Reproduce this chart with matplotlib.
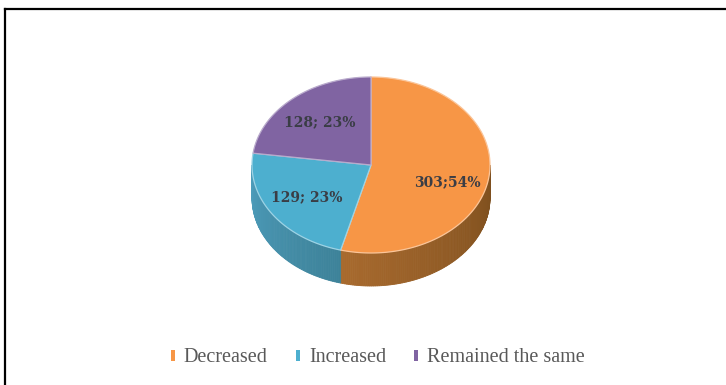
import numpy as np
import matplotlib

matplotlib.use("Agg")
import matplotlib.pyplot as plt  # noqa: E402
from matplotlib.colors import to_rgb  # noqa: E402
from matplotlib.lines import Line2D  # noqa: E402
from matplotlib.patches import Polygon, Rectangle  # noqa: E402

CATEGORIES = ["Decreased", "Increased", "Remained the same"]
COUNTS = [303, 129, 128]
LABEL_SEP = [";", "; ", "; "]

TOP_COLORS = ["#F79646", "#4DAFCF", "#8064A2"]
# side shading runs from the slice's start angle to its end angle
SIDE_COLORS = [("#56360f", "#a86a2e"), ("#3d8299", "#4f9fbe"), ("#4f3d66", "#4f3d66")]

W, H = 726, 385
CX, CY = 371, 165       # centre of the top face, in pixels
RX, RY = 119, 88        # flattened radii of the top face
DEPTH = 33              # thickness of the disc


def ellipse_pt(theta_deg, dy=0.0):
    """Point on the top rim, theta measured clockwise from 12 o'clock."""
    t = np.radians(theta_deg)
    return CX + RX * np.sin(t), CY - RY * np.cos(t) + dy


def mix(c0, c1, f):
    a, b = np.array(to_rgb(c0)), np.array(to_rgb(c1))
    return tuple(a + (b - a) * f)


fig = plt.figure(figsize=(W / 100, H / 100), dpi=100)
ax = fig.add_axes([0, 0, 1, 1])
ax.set_xlim(0, W)
ax.set_ylim(H, 0)
ax.axis("off")

total = sum(COUNTS)
edges = np.concatenate([[0], np.cumsum(COUNTS) / total * 360])

# front wall of the disc, drawn as thin strips so the shading can vary
for i in range(len(COUNTS)):
    a0, a1 = max(edges[i], 90), min(edges[i + 1], 270)
    if a1 <= a0:
        continue
    steps = np.linspace(a0, a1, int(a1 - a0) + 2)
    c_start, c_end = SIDE_COLORS[i]
    for k in range(len(steps) - 1):
        s0, s1 = steps[k], steps[k + 1]
        f = (0.5 * (s0 + s1) - edges[i]) / (edges[i + 1] - edges[i])
        col = mix(c_start, c_end, f)
        p0, p1 = ellipse_pt(s0), ellipse_pt(s1)
        q1, q0 = ellipse_pt(s1, DEPTH), ellipse_pt(s0, DEPTH)
        ax.add_patch(Polygon([p0, p1, q1, q0], closed=True, facecolor=col,
                             edgecolor=col, linewidth=0.6))

# top faces
for i in range(len(COUNTS)):
    arc = np.linspace(edges[i], edges[i + 1], 200)
    pts = [(CX, CY)] + [ellipse_pt(a) for a in arc]
    ax.add_patch(Polygon(pts, closed=True, facecolor=TOP_COLORS[i],
                         edgecolor=mix(TOP_COLORS[i], "#ffffff", 0.45),
                         linewidth=0.9, joinstyle="round"))

# data labels
for i, n in enumerate(COUNTS):
    mid = 0.5 * (edges[i] + edges[i + 1])
    t = np.radians(mid)
    x = CX + 0.65 * RX * np.sin(t)
    y = CY - 0.65 * RY * np.cos(t) + (10 if i == 0 else 0)
    pct = round(100 * n / total)
    ax.text(x, y, f"{n}{LABEL_SEP[i]}{pct}%", ha="center", va="center",
            fontsize=10, fontweight="bold", family="DejaVu Serif",
            color="#3a3d45")

handles = [Rectangle((0, 0), 1, 1, facecolor=c, edgecolor="none") for c in TOP_COLORS]
fig.legend(handles, CATEGORIES, loc="center", bbox_to_anchor=(378 / W, 1 - 358 / H),
           ncol=3, frameon=False, handlelength=0.2, handleheight=0.45,
           handletextpad=0.45, columnspacing=1.4,
           prop={"family": "Liberation Serif", "size": 14.5}, labelcolor="#595959")

# outer frame: top and left rules only
fig.add_artist(Line2D([5 / W, 1], [1 - 9 / H, 1 - 9 / H], color="black", linewidth=1.6))
fig.add_artist(Line2D([5 / W, 5 / W], [0, 1 - 9 / H], color="black", linewidth=1.6))

fig.savefig("out.png", dpi=100)
